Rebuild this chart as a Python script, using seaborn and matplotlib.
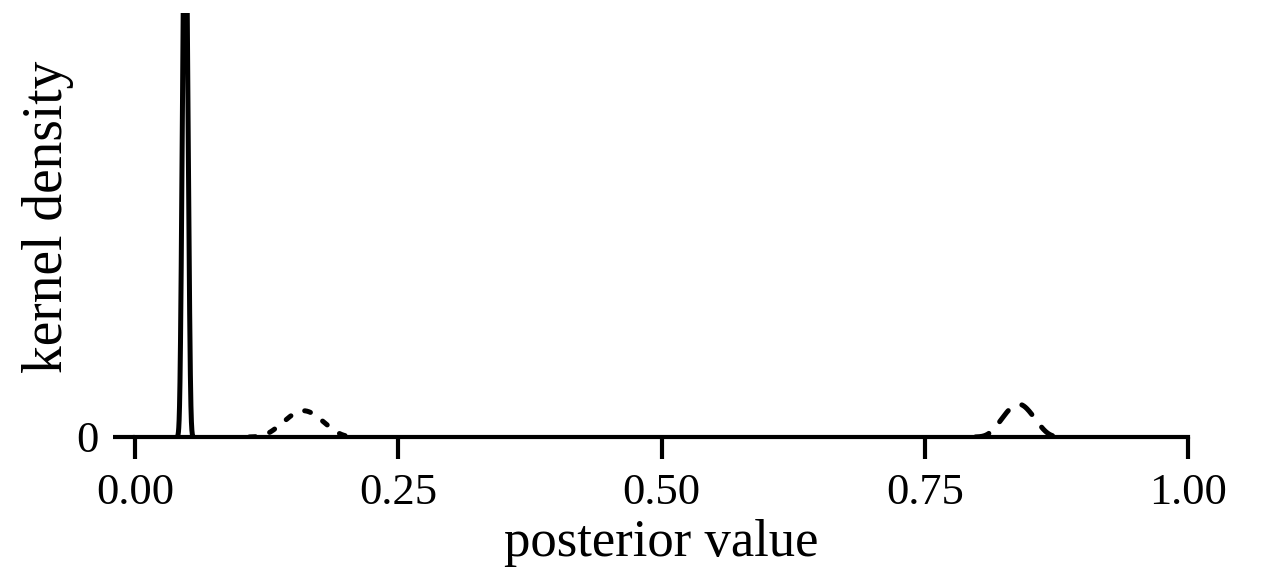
import numpy as np
import pandas as pd
import matplotlib
matplotlib.use("Agg")
import matplotlib.pyplot as plt
import seaborn as sns

# Posterior samples (read/estimated from the picture)
spike_values = [0.0444, 0.0456, 0.0463, 0.0469, 0.0474, 0.0480, 0.0485, 0.0491, 0.0498, 0.0510]
low_values = [0.136, 0.145, 0.150, 0.154, 0.158, 0.162, 0.166, 0.170, 0.175, 0.184]
high_values = [0.820, 0.827, 0.831, 0.834, 0.838, 0.840, 0.844, 0.847, 0.851, 0.858]
series_names = ["spike", "low", "high"]
series_weights = [3, 1, 1]
x_ticks = [0.0, 0.25, 0.5, 0.75, 1.0]
x_tick_labels = ["0.00", "0.25", "0.50", "0.75", "1.00"]
y_ticks = [0]
y_tick_labels = ["0"]

sns.set_theme(style="ticks")
plt.rcParams["font.family"] = ["Liberation Serif", "DejaVu Serif"]

rows = []
for name, vals, w in zip(series_names, [spike_values, low_values, high_values], series_weights):
    for v in vals:
        rows.append({"value": v, "series": name, "weight": w})
df = pd.DataFrame(rows)

fig = plt.figure(figsize=(12.63, 5.75), dpi=100)
ax = fig.add_axes([135 / 1263, 138 / 575, 1053 / 1263, 424 / 575])

sns.kdeplot(data=df, x="value", hue="series", weights="weight", common_norm=True,
            palette=["black"] * 3, linewidth=3.6, legend=False, gridsize=400, ax=ax)

for line in ax.lines:
    xd = np.asarray(line.get_xdata())
    yd = np.asarray(line.get_ydata())
    c = xd[np.argmax(yd)]
    line.set_color("black")
    if c < 0.1:
        line.set_linestyle("-")
    elif c < 0.5:
        line.set_dashes((1.2, 3.0))
        line.set_dash_capstyle("round")
    else:
        line.set_dashes((2.8, 3.2))
        line.set_dash_capstyle("round")

ax.set_xlim(0, 1)
ax.set_ylim(0, 74)
ax.set_xticks(x_ticks)
ax.set_xticklabels(x_tick_labels)
ax.set_yticks(y_ticks)
ax.set_yticklabels(y_tick_labels)
sns.despine(ax=ax, left=True)
ax.spines["bottom"].set_linewidth(3)
ax.spines["bottom"].set_color("black")
ax.tick_params(axis="both", length=16, width=3, color="black", labelsize=32,
               labelcolor="black", pad=10)
ax.set_xlabel("posterior value", fontsize=38, color="black", labelpad=4)
ax.set_ylabel("kernel density", fontsize=40, color="black")
ax.yaxis.set_label_coords(-0.058, 0.52)

fig.savefig("out.png", dpi=100)
